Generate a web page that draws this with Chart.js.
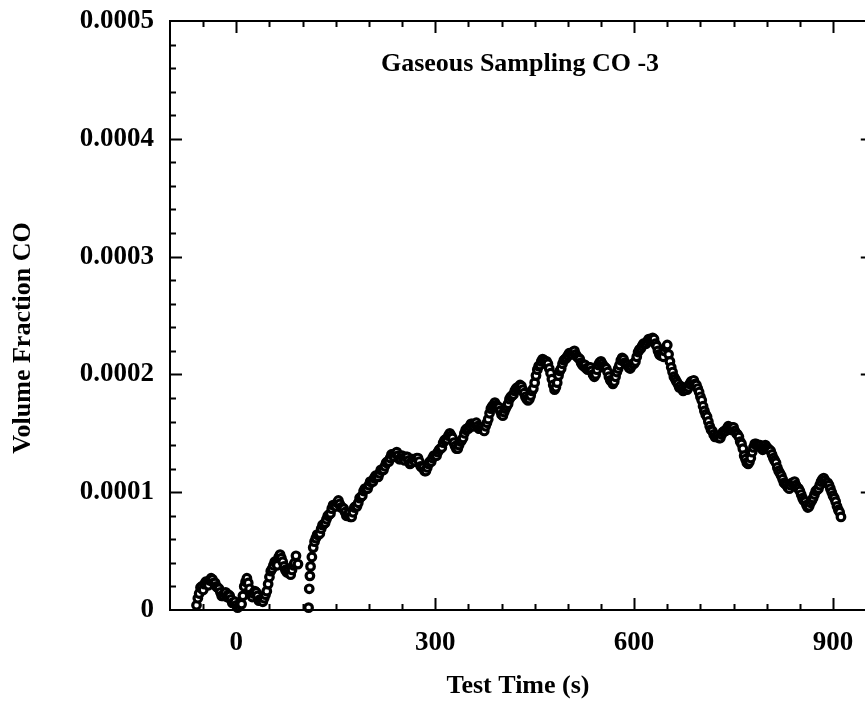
<!DOCTYPE html>
<html>
<head>
<meta charset="utf-8">
<script src="https://cdn.jsdelivr.net/npm/chart.js@4.4.1/dist/chart.umd.min.js"></script>
<style>
html, body { margin: 0; padding: 0; overflow: hidden; background: #fff; }
canvas { display: block; }
</style>
</head>
<body>
<canvas id="chart_co" width="880" height="715"></canvas>
<script>
// test time in seconds
const timeSec = [
    -60, -56, -52, -48, -44, -40, -36, -32, -28, -24, -20, -16, -12, -8, -4,
    0, 4, 8, 12, 16, 20, 24, 28, 32, 36, 40, 44, 48, 52, 56, 60, 64, 68, 72, 76, 80, 84, 88, 90, 93,
    109, 110, 111, 112, 114, 116, 118,
    120, 124, 128, 132, 136, 140, 144, 148, 152, 156, 160, 164, 168, 172, 176, 180, 184, 188, 192, 196,
    200, 204, 208, 212, 216, 220, 224, 228, 232, 236, 240, 244, 248, 252, 256, 260, 264, 268, 272, 276,
    280, 284, 288, 292, 296, 300, 304, 308, 312, 316, 320, 324, 328, 332, 336, 340, 344, 348, 352, 356,
    360, 364, 368, 372, 376, 380, 384, 388, 392, 396, 400, 404, 408, 412, 416, 420, 424, 428, 432, 436,
    440, 444, 448, 452, 456, 460, 464, 468, 472, 476, 480, 484, 488, 492, 496, 500, 504, 508, 512, 516,
    520, 524, 528, 532, 536, 540, 544, 548, 552, 556, 560, 564, 568, 572, 576, 580, 584, 588, 592, 596,
    600, 604, 608, 612, 616, 620, 624, 628, 632, 636, 640, 644, 648, 652, 656, 660, 664, 668, 672, 676,
    680, 684, 688, 692, 696, 700, 704, 708, 712, 716, 720, 724, 728, 732, 736, 740, 744, 748, 752, 756,
    760, 764, 768, 772, 776, 780, 784, 788, 792, 796, 800, 804, 808, 812, 816, 820, 824, 828, 832, 836,
    840, 844, 848, 852, 856, 860, 864, 868, 872, 876, 880, 884, 888, 892, 896, 900, 904, 908, 912
];
// CO volume fraction, in units of 1e-5
const coE5 = [
    0.4, 1.4, 2.0, 2.2, 2.3, 2.5, 2.6, 2.3, 1.9, 1.5, 1.2, 1.5, 1.3, 0.9, 0.6,
    0.4, 0.3, 0.5, 2.0, 2.7, 1.8, 1.1, 1.6, 1.2, 0.9, 0.7, 1.3, 2.2, 3.3, 3.8, 4.0, 4.5, 4.4, 3.7, 3.2, 3.1, 3.4, 4.0, 4.6, 3.9,
    0.2, 1.8, 2.9, 3.7, 4.5, 5.3, 5.8,
    6.1, 6.4, 6.9, 7.3, 7.7, 8.1, 8.6, 8.9, 9.1, 9.0, 8.7, 8.3, 8.1, 7.9, 8.3, 8.8, 9.1, 9.6, 10.1, 10.3,
    10.6, 10.9, 11.2, 11.3, 11.6, 11.9, 12.2, 12.6, 12.9, 13.2, 13.3, 13.1, 12.8, 12.9, 13.0, 12.7, 12.5, 12.7, 12.9, 12.6,
    12.1, 11.8, 12.1, 12.6, 12.9, 13.1, 13.4, 13.7, 14.2, 14.5, 14.8, 14.8, 14.2, 13.7, 14.0, 14.4, 15.0, 15.4, 15.6, 15.8,
    15.8, 15.6, 15.4, 15.3, 15.6, 16.2, 17.1, 17.4, 17.4, 17.2, 16.6, 16.8, 17.3, 17.9, 18.2, 18.6, 18.9, 19.1, 18.7, 18.1,
    17.8, 18.2, 18.8, 19.9, 20.7, 21.1, 21.2, 21.1, 20.5, 19.6, 18.7, 19.3, 20.3, 20.9, 21.3, 21.6, 21.8, 21.9, 21.7, 21.4,
    21.0, 20.7, 20.5, 20.6, 20.3, 19.8, 20.4, 21.0, 20.9, 20.6, 20.2, 19.5, 19.2, 19.8, 20.5, 21.2, 21.3, 20.9, 20.6, 20.7,
    20.9, 21.5, 22.1, 22.4, 22.6, 22.8, 23.0, 23.1, 22.6, 22.0, 21.6, 21.5, 22.3, 21.7, 20.6, 19.8, 19.4, 18.9, 18.8, 18.7,
    18.7, 19.2, 19.4, 19.2, 18.8, 18.1, 17.3, 16.6, 16.0, 15.3, 14.9, 14.7, 14.6, 14.9, 15.2, 15.4, 15.5, 15.5, 15.2, 14.9,
    14.3, 13.7, 12.8, 12.4, 12.9, 13.8, 14.1, 14.0, 13.8, 13.8, 13.8, 13.6, 13.2, 12.7, 12.1, 11.6, 11.1, 10.7, 10.4, 10.6,
    10.8, 10.6, 10.3, 9.8, 9.3, 8.9, 8.8, 9.3, 9.8, 10.2, 10.6, 11.1, 11.0, 10.8, 10.3, 9.7, 9.2, 8.5, 7.9
];
// in-between samples
const timeSecB = [
    -58, -54, -50, -46, -42, -38, -34, -30, -26, -22, -18, -14, -10, -6, -2,
    2, 6, 10, 14, 18, 22, 26, 30, 34, 38, 42, 46, 50, 54, 58, 62, 66, 70, 74, 78, 82, 86,
    122, 126, 130, 134, 138, 142, 146, 150, 154, 158, 162, 166, 170, 174, 178, 182, 186, 190, 194, 198,
    202, 206, 210, 214, 218, 222, 226, 230, 234, 238, 242, 246, 250, 254, 258, 262, 266, 270, 274, 278,
    282, 286, 290, 294, 298, 302, 306, 310, 314, 318, 322, 326, 330, 334, 338, 342, 346, 350, 354, 358,
    362, 366, 370, 374, 378, 382, 386, 390, 394, 398, 402, 406, 410, 414, 418, 422, 426, 430, 434, 438,
    442, 446, 450, 454, 458, 462, 466, 470, 474, 478, 482, 486, 490, 494, 498, 502, 506, 510, 514, 518,
    522, 526, 530, 534, 538, 542, 546, 550, 554, 558, 562, 566, 570, 574, 578, 582, 586, 590, 594, 598,
    602, 606, 610, 614, 618, 622, 626, 630, 634, 638, 642, 646, 650, 654, 658, 662, 666, 670, 674, 678,
    682, 686, 690, 694, 698, 702, 706, 710, 714, 718, 722, 726, 730, 734, 738, 742, 746, 750, 754, 758,
    762, 766, 770, 774, 778, 782, 786, 790, 794, 798, 802, 806, 810, 814, 818, 822, 826, 830, 834, 838,
    842, 846, 850, 854, 858, 862, 866, 870, 874, 878, 882, 886, 890, 894, 898, 902, 906, 910
];
const coE5B = [
    1.0, 1.9, 1.7, 2.4, 2.1, 2.7, 2.3, 2.0, 1.8, 1.2, 1.4, 1.1, 1.2, 0.6, 0.7,
    0.2, 0.5, 1.2, 2.4, 2.3, 1.3, 1.4, 1.5, 0.8, 0.9, 1.0, 1.6, 2.8, 3.5, 4.1, 3.8, 4.7, 4.1, 3.4, 3.3, 3.0, 3.8,
    6.4, 6.5, 7.2, 7.4, 8.0, 8.2, 8.9, 8.8, 9.3, 8.7, 8.6, 8.0, 8.2, 7.9, 8.7, 8.8, 9.5, 9.7, 10.3, 10.3,
    10.9, 10.9, 11.4, 11.3, 11.9, 11.9, 12.5, 12.6, 13.2, 13.0, 13.4, 12.8, 13.1, 12.7, 13.0, 12.4, 12.8, 12.6, 12.9, 12.2,
    12.1, 11.8, 12.4, 12.6, 13.1, 13.1, 13.6, 13.8, 14.4, 14.5, 15.0, 14.6, 13.9, 13.7, 14.3, 14.6, 15.3, 15.4, 15.8, 15.6,
    15.9, 15.4, 15.5, 15.2, 15.9, 16.7, 17.3, 17.6, 17.3, 16.9, 16.5, 17.1, 17.5, 18.1, 18.3, 18.8, 18.9, 19.0, 18.4, 17.9,
    17.9, 18.6, 19.3, 20.4, 20.8, 21.3, 21.0, 20.9, 20.1, 19.1, 18.9, 19.9, 20.5, 21.2, 21.4, 21.8, 21.7, 22.0, 21.5, 21.3,
    20.8, 20.8, 20.4, 20.6, 20.0, 20.0, 20.8, 21.1, 20.7, 20.5, 19.8, 19.4, 19.4, 20.2, 20.8, 21.4, 21.0, 20.8, 20.5, 20.9,
    21.1, 21.9, 22.2, 22.6, 22.6, 23.0, 22.9, 23.0, 22.4, 21.7, 21.7, 22.0, 22.5, 21.1, 20.2, 19.6, 19.2, 19.0, 18.6, 18.9,
    18.9, 19.4, 19.5, 19.1, 18.5, 17.8, 16.9, 16.4, 15.6, 15.2, 14.7, 14.8, 14.6, 15.1, 15.2, 15.6, 15.3, 15.5, 15.0, 14.7,
    14.1, 13.1, 12.5, 12.6, 13.4, 14.1, 13.9, 14.0, 13.6, 14.0, 13.7, 13.5, 12.9, 12.5, 11.8, 11.4, 10.8, 10.6, 10.3, 10.8,
    10.9, 10.4, 10.1, 9.5, 9.2, 8.7, 9.1, 9.5, 10.1, 10.3, 10.9, 11.2, 10.8, 10.6, 10.0, 9.5, 8.8, 8.3
];

const xMajorTicks = [0, 300, 600, 900];
const xMinorStep = 50;
const yMajorTicks = [0, 0.0001, 0.0002, 0.0003, 0.0004, 0.0005];
const yTickLabels = ['0', '0.0001', '0.0002', '0.0003', '0.0004', '0.0005'];
const yMinorStep = 0.00002;

const chartTitle = 'Gaseous Sampling CO -3';
const xTitle = 'Test Time (s)';
const yTitle = 'Volume Fraction CO';

const serif = '"Liberation Serif", "Times New Roman", serif';

// frame, inward ticks and all text
const framePlugin = {
    id: 'frame',
    afterDatasetsDraw(chart) {
        const ctx = chart.ctx;
        const a = chart.chartArea;
        const x = chart.scales.x;
        const y = chart.scales.y;
        ctx.save();
        ctx.strokeStyle = '#000';
        ctx.lineWidth = 2;
        ctx.strokeRect(a.left, a.top, a.right - a.left, a.bottom - a.top);

        ctx.beginPath();
        for (let v = x.min + xMinorStep; v < x.max; v += xMinorStep) {
            const px = Math.round(x.getPixelForValue(v)) + 0.5;
            const len = xMajorTicks.includes(v) ? 12 : 6;
            ctx.moveTo(px, a.bottom); ctx.lineTo(px, a.bottom - len);
            ctx.moveTo(px, a.top); ctx.lineTo(px, a.top + len);
        }
        for (let i = 1; i * yMinorStep < y.max - 1e-9; i++) {
            const py = Math.round(y.getPixelForValue(i * yMinorStep)) + 0.5;
            const len = i % 5 === 0 ? 12 : 6;
            ctx.moveTo(a.left, py); ctx.lineTo(a.left + len, py);
            ctx.moveTo(a.right, py); ctx.lineTo(a.right - len, py);
        }
        ctx.stroke();

        ctx.fillStyle = '#000';
        ctx.font = 'bold 27px ' + serif;
        ctx.textAlign = 'center';
        ctx.textBaseline = 'middle';
        xMajorTicks.forEach(v => ctx.fillText(String(v), x.getPixelForValue(v), 643));
        ctx.textAlign = 'right';
        yMajorTicks.forEach((v, i) => ctx.fillText(yTickLabels[i], 154, y.getPixelForValue(v)));

        ctx.font = 'bold 26px ' + serif;
        ctx.textAlign = 'center';
        ctx.textBaseline = 'alphabetic';
        ctx.fillText(chartTitle, 520, 71);
        ctx.textBaseline = 'middle';
        ctx.fillText(xTitle, 518, 686);
        ctx.translate(23, 338);
        ctx.rotate(-Math.PI / 2);
        ctx.fillText(yTitle, 0, 0);
        ctx.restore();
    }
};

// one series, both sample sets merged in time order
const points = timeSec.map((t, i) => ({ x: t, y: coE5[i] * 1e-5 }))
    .concat(timeSecB.map((t, i) => ({ x: t, y: coE5B[i] * 1e-5 })))
    .sort((p, q) => p.x - q.x);

const ctx = document.getElementById('chart_co').getContext('2d');
const chart = new Chart(ctx, {
    type: 'scatter',
    data: {
        datasets: [{
            label: 'CO',
            data: points,
            pointStyle: 'circle',
            pointRadius: 3.8,
            borderWidth: 3.2,
            borderColor: '#000',
            backgroundColor: '#fff',
            showLine: false,
            clip: false
        }]
    },
    options: {
        responsive: false,
        animation: false,
        devicePixelRatio: 1,
        layout: { padding: { left: 170, top: 21, right: 7, bottom: 105 } },
        plugins: { legend: { display: false }, tooltip: { enabled: false } },
        events: [],
        scales: {
            x: { type: 'linear', min: -100, max: 960, display: false },
            y: { type: 'linear', min: 0, max: 0.0005, display: false }
        }
    },
    plugins: [framePlugin]
});
</script>
</body>
</html>
